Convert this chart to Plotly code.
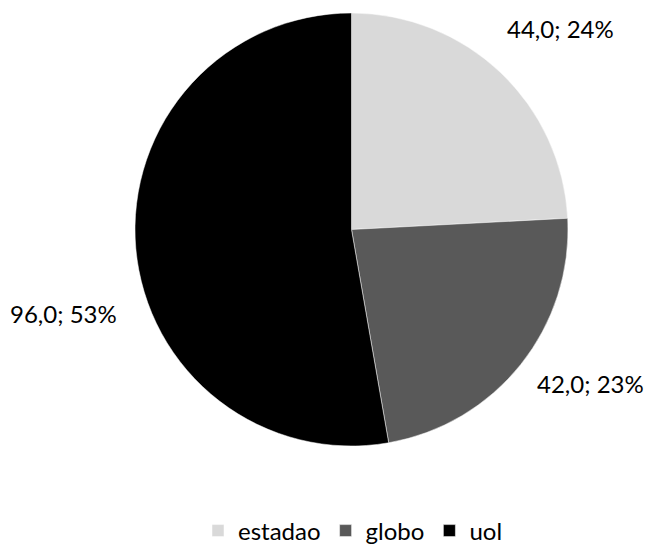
import plotly.graph_objects as go

categories = ["estadao", "globo", "uol"]
values = [44.0, 42.0, 96.0]
colors = ["#d9d9d9", "#595959", "#000000"]

total = sum(values)
label_texts = [f"{v:.1f}".replace(".", ",") + f"; {round(100 * v / total)}%" for v in values]

W, H = 648, 546
cx, cy, r = 351.5, 229.5, 216.5

fig = go.Figure(go.Pie(
    labels=categories,
    values=values,
    sort=False,
    direction="clockwise",
    rotation=0,
    marker=dict(colors=colors, line=dict(color="white", width=0.5)),
    textinfo="none",
    hoverinfo="label+value+percent",
    domain=dict(x=[(cx - r) / W, (cx + r) / W], y=[1 - (cy + r) / H, 1 - (cy - r) / H]),
))

# label positions (paper px) for each slice
label_pos = [(560, 28), (590, 383), (63, 313)]
for txt, (px, py) in zip(label_texts, label_pos):
    fig.add_annotation(x=px / W, y=1 - py / H, xref="paper", yref="paper",
                       text=txt, showarrow=False, xanchor="center", yanchor="middle",
                       font=dict(size=24, color="#000000", family="Lato"))

fig.update_layout(
    width=W, height=H,
    margin=dict(l=0, r=0, t=0, b=0, autoexpand=False),
    paper_bgcolor="white", plot_bgcolor="white",
    font=dict(family="Lato", size=24, color="#000000"),
    showlegend=True,
    legend=dict(orientation="h", x=353 / W, xanchor="center",
                y=1 - 531 / H, yanchor="middle",
                font=dict(size=24), itemwidth=30, tracegroupgap=0),
)

fig.write_html("out.html")
